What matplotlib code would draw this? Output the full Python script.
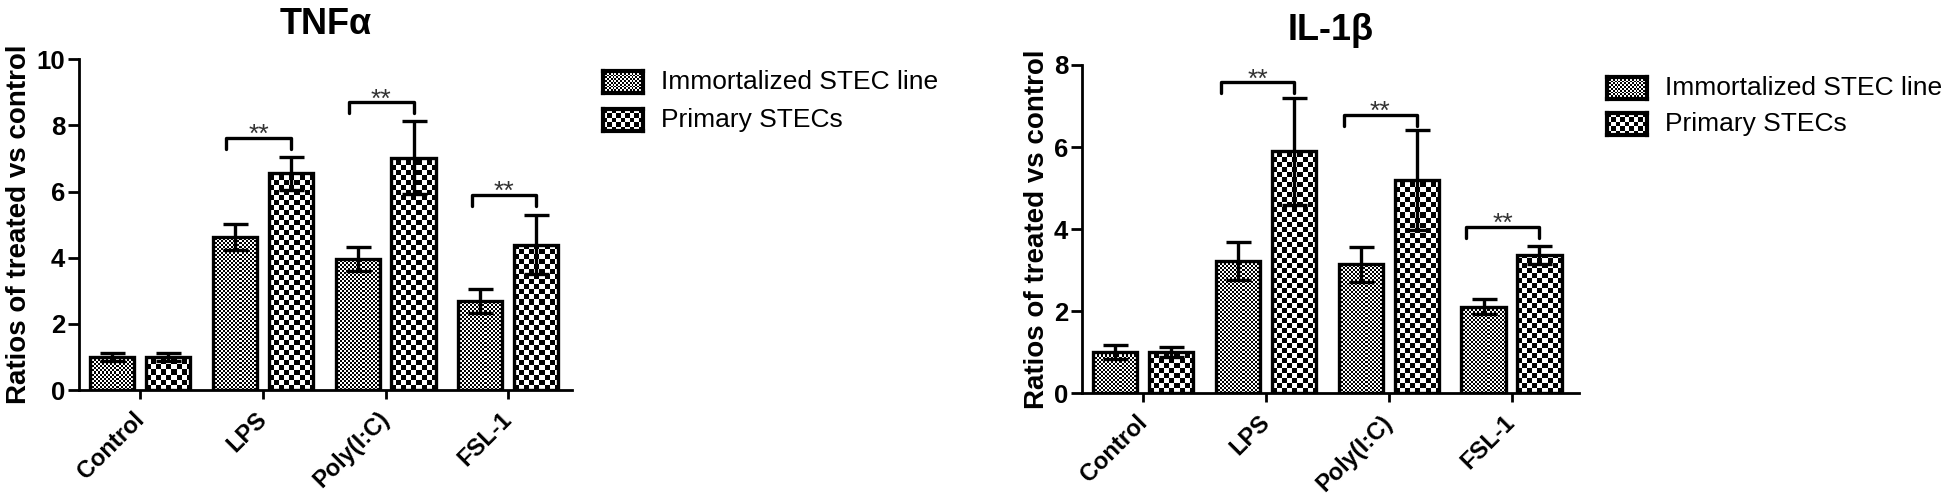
import numpy as np
import matplotlib
matplotlib.use("Agg")
import matplotlib.pyplot as plt

plt.rcParams['font.family'] = ['Liberation Sans', 'DejaVu Sans']

# данные
groups = ["Control", "LPS", "Poly(I:C)", "FSL-1"]
series_names = ["Immortalized STEC line", "Primary STECs"]

tnf_imm = [1.0, 4.62, 3.95, 2.69]
tnf_imm_err = [0.11, 0.40, 0.36, 0.35]
tnf_pri = [1.0, 6.55, 7.03, 4.39]
tnf_pri_err = [0.11, 0.51, 1.10, 0.89]
tnf_brackets = [7.63, 8.70, 5.90]   # LPS, Poly(I:C), FSL-1

il_imm = [1.01, 3.23, 3.14, 2.11]
il_imm_err = [0.17, 0.46, 0.43, 0.18]
il_pri = [1.01, 5.90, 5.20, 3.38]
il_pri_err = [0.12, 1.30, 1.22, 0.22]
il_brackets = [7.58, 6.78, 4.05]

W, H = 1946, 503
fig = plt.figure(figsize=(W / 100, H / 100), dpi=100)

BAR_W = 0.36
OFF = 0.228
CELLS = [2, 5]      # размер клетки "шахматки" в пикселях
LW = 2.4


def px_box(x0, y0, x1, y1):
    # прямоугольник в пикселях (от верхнего левого угла) -> координаты фигуры
    return [x0 / W, 1 - y1 / H, (x1 - x0) / W, (y1 - y0) / H]


def checker(ax, rect, cell):
    x0, w, h = rect.get_x(), rect.get_width(), rect.get_height()
    (px0, py0), (px1, py1) = ax.transData.transform([(x0, 0), (x0 + w, h)])
    sx = w / (px1 - px0)
    sy = h / (py1 - py0)
    nx = int(np.ceil((px1 - px0) / cell)) + 1
    ny = int(np.ceil((py1 - py0) / cell)) + 1
    board = np.indices((ny, nx)).sum(axis=0) % 2
    im = ax.imshow(board, cmap='gray', vmin=0, vmax=1, interpolation='nearest',
                   aspect='auto', origin='lower',
                   extent=(x0, x0 + nx * cell * sx, 0, ny * cell * sy), zorder=1)
    im.set_clip_path(rect)


def draw_panel(box, title, imm, imm_err, pri, pri_err, brackets, ymax, xmax, leg, shift):
    ax = fig.add_axes(px_box(*box))
    ax.set_xlim(-0.5, xmax)
    ax.set_ylim(0, ymax)
    x = np.arange(len(groups))
    for k, (vals, errs) in enumerate([(imm, imm_err), (pri, pri_err)]):
        xs = x + (k * 2 - 1) * OFF
        bars = ax.bar(xs, vals, BAR_W, facecolor='none', edgecolor='black', lw=LW, zorder=2)
        for r in bars:
            checker(ax, r, CELLS[k])
        ax.errorbar(xs, vals, yerr=errs, fmt='none', ecolor='black', elinewidth=LW,
                    capsize=9, capthick=LW, zorder=3)
    for i, b in zip(range(1, 4), brackets):
        xl = i - OFF - shift
        xr = i + OFF
        ax.plot([xl, xl, xr, xr], [b - leg, b, b, b - leg], color='black', lw=LW,
                solid_joinstyle='round', solid_capstyle='round', zorder=3)
        ax.annotate('**', ((xl + xr) / 2, b), xytext=(0, -3), textcoords='offset points',
                    ha='center', va='baseline', fontsize=19, color='#333333')
    ax.set_xlim(-0.5, xmax)
    ax.set_ylim(0, ymax)

    for s in ['top', 'right']:
        ax.spines[s].set_visible(False)
    for s in ['left', 'bottom']:
        ax.spines[s].set_linewidth(2)
    ax.set_xticks(x)
    ax.set_xticklabels(groups, rotation=45, ha='right', va='center',
                       rotation_mode='anchor', fontsize=17, fontweight='bold')
    ax.tick_params(axis='x', length=6.5, width=2, pad=12)
    ax.tick_params(axis='y', length=8, width=2, pad=2, labelsize=18.5)
    ax.set_ylabel('Ratios of treated vs control', fontsize=20, fontweight='bold', labelpad=3)
    ax.set_title(title, fontsize=26, fontweight='bold', pad=18)
    return ax


ax1 = draw_panel((79, 59.3, 572, 390), 'TNFα', tnf_imm, tnf_imm_err, tnf_pri, tnf_pri_err,
                 tnf_brackets, 10, 3.52, 0.33, 0.07)
ax1.set_yticks([0, 2, 4, 6, 8, 10])
ax2 = draw_panel((1082, 65, 1579, 393.3), 'IL-1β', il_imm, il_imm_err, il_pri, il_pri_err,
                 il_brackets, 8, 3.55, 0.27, 0.14)
ax2.set_yticks([0, 2, 4, 6, 8])
for a in (ax1, ax2):
    for t in a.get_yticklabels():
        t.set_fontweight('bold')


def legend(x0, y0, step):
    for k, name in enumerate(series_names):
        yc = y0 + k * step
        sw = fig.add_axes(px_box(x0, yc - 11, x0 + 40, yc + 11))
        nx, ny = 40 // CELLS[k] + 1, 22 // CELLS[k] + 1
        board = np.indices((ny, nx)).sum(axis=0) % 2
        sw.imshow(board, cmap='gray', vmin=0, vmax=1, interpolation='nearest', aspect='auto')
        sw.set_xticks([])
        sw.set_yticks([])
        for s in sw.spines.values():
            s.set_linewidth(3)
        fig.text((x0 + 58) / W, 1 - yc / H, name, fontsize=19, va='center', ha='left')


legend(603, 82, 38)
legend(1607, 88, 36)

fig.savefig('out.png', dpi=100)
